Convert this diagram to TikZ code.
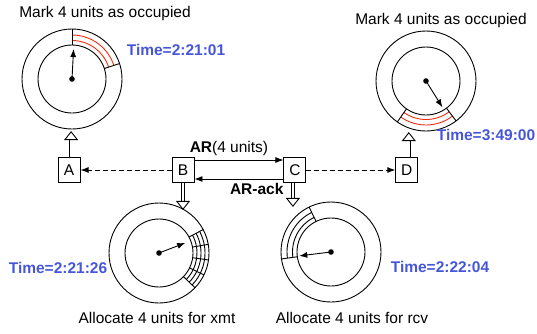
\documentclass[tikz,border=0pt]{standalone}
\usepackage{fontspec}
\setmainfont{Liberation Sans}
\usetikzlibrary{positioning,calc,arrows.meta}
\definecolor{tempo}{HTML}{4656DC}
\definecolor{marca}{HTML}{F02C10}
\newcommand{\anel}[1]{\draw (#1) circle[radius=50]; \draw (#1) circle[radius=34]; \fill (#1) circle[radius=2.8];}

\begin{document}
\begin{tikzpicture}[x=1pt,y=1pt,line width=0.9pt,
      every node/.style={font=\fontsize{15.5}{18}\selectfont},
      box/.style={draw,minimum width=22pt,minimum height=25pt,inner sep=0pt},
      tlbl/.style={font=\fontsize{15.5}{18}\selectfont\bfseries,text=tempo},
      hollow/.style={double,double distance=2.8pt,-{Triangle[open,length=9pt,width=14pt,line width=0.9pt]}},
      ptr/.style={-{Latex[length=8pt,width=6pt]}},
      >={Latex[length=8pt,width=6pt]},
    ]
  \useasboundingbox (0,0) rectangle (537,333);
  \coordinate (tl) at (72,254);
  \coordinate (tr) at (426,252);
  \coordinate (bl) at (159,80);
  \coordinate (br) at (331,81);

  % the four nodes
  \node[box] (B) at (183,163) {B};
  \node[box, left=91pt of B] (A) {A};
  \node[box, right=89pt of B] (C) {C};
  \node[box, right=89pt of C] (D) {D};

  \draw[->,dash pattern=on 5pt off 3pt] (B) -- (A);
  \draw[->,dash pattern=on 5pt off 3pt] (C) -- (D);
  \draw[->] ([yshift=10pt]B.east) -- ([yshift=10pt]C.west)
    node[midway,above=1pt,xshift=-10pt]{\textbf{AR}(4 units)};
  \draw[->] ([yshift=-9pt]C.west) -- ([yshift=-9pt]B.east)
    node[pos=0.3,below=0pt]{\textbf{AR-ack}};

  \draw[hollow] ([xshift=2pt]A.north) -- ++(0,26);
  \draw[hollow] ([xshift=2pt]D.north) -- ++(0,25);
  \draw[hollow] (B.south) -- ++(0,-27);
  \draw[hollow] ([xshift=-2pt]C.south) -- ++(0,-24);

  % dials
  \anel{tl} \anel{tr} \anel{bl} \anel{br}
  \foreach \r in {38.5,44} {
    \draw[marca] ($(tl)+(90:\r)$) arc[start angle=90,end angle=18,radius=\r];
    \draw[marca] ($(tr)+(-53:\r)$) arc[start angle=-53,end angle=-125,radius=\r];
    \draw ($(br)+(188:\r)$) arc[start angle=188,end angle=116,radius=\r];
  }
  \foreach \r in {38,42,46}
    \draw ($(bl)+(28:\r)$) arc[start angle=28,end angle=-44,radius=\r];
  \foreach \c/\a in {tl/90,tl/18,tr/-53,tr/-125,br/188,br/116,bl/28,bl/10,bl/-8,bl/-26,bl/-44}
    \draw ($(\c)+(\a:34)$) -- ($(\c)+(\a:50)$);
  \draw[ptr] (tl) -- ++(87:30);
  \draw[ptr] (tr) -- ++(-58:31);
  \draw[ptr] (bl) -- ++(21:28);
  \draw[ptr] (br) -- ++(187:32);

  % texts
  \node (mk1) at (105,320) {Mark 4 units as occupied};
  \node (mk2) at (441,313) {Mark 4 units as occupied};
  \node[tlbl] (t1) at (176,283) {Time=2:21:01};
  \node[tlbl] (t2) at (486,198) {Time=3:49:00};
  \node[tlbl] (t3) at (58,65) {Time=2:21:26};
  \node[tlbl] (t4) at (440,66) {Time=2:22:04};
  \node (al1) at (157,15) {Allocate 4 units for xmt};
  \node (al2) at (352,15) {Allocate 4 units for rcv};
\end{tikzpicture}
\end{document}
